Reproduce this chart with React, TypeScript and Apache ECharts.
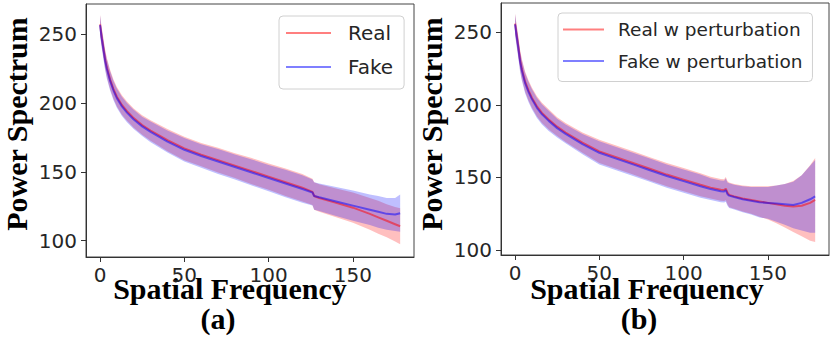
import React, { useEffect, useRef } from "react";
import * as echarts from "echarts";

// ---------- data ----------
const freqA = [0, 1, 2, 3, 4, 6, 8, 10, 13, 16, 20, 25, 30, 40, 50, 60, 70, 80, 90, 100, 110, 120, 126, 127, 130, 140, 150, 160, 165, 170, 175, 178];
const realMeanA = [257, 248, 240, 232, 226, 217, 210, 204.5, 198.5, 194, 189, 184, 180, 173, 167, 162.5, 158.5, 154.5, 150.5, 146.5, 142.5, 138.5, 135.5, 132.5, 131, 127.5, 124, 119.5, 117, 114.5, 112, 110.5];
const fakeMeanA = [256.5, 247, 239, 231, 225, 216, 209, 203.5, 197.5, 193, 188, 183, 179, 172, 166, 161.5, 157.5, 153.5, 149.5, 145.5, 141.5, 137.5, 135, 132.5, 131.5, 128.5, 125.5, 122.5, 121, 119.5, 119, 120];
const realStdA = [7, 7, 7, 7, 7, 7, 7, 7, 7, 7, 7, 7, 7.5, 8, 8.5, 8.5, 9, 9, 9.5, 9.5, 10, 10, 9.5, 10, 10, 10.5, 11, 11.5, 12, 12, 12.5, 13];
const fakeStdA = [7, 7, 7, 7, 7, 7, 7, 7, 7, 7, 7, 7, 7.5, 8, 8.5, 8.5, 9, 9, 9.5, 9.5, 10, 10, 9.5, 10, 10, 10.5, 11, 11, 11.5, 11.5, 12, 13.5];

const freqB = [0, 1, 2, 3, 4, 6, 8, 10, 13, 16, 20, 25, 30, 40, 50, 60, 70, 80, 90, 100, 110, 116, 122, 124, 125, 126, 127, 130, 135, 140, 145, 150, 155, 160, 165, 170, 175, 178];
const realMeanB = [256, 248, 240, 231, 225, 216, 210, 205, 199, 194.5, 190, 185, 181, 174, 168, 164, 160, 156, 152, 148.5, 145, 143, 141.5, 141.3, 142.3, 139.5, 138, 137, 135.5, 134.5, 133.5, 132.5, 131.5, 130.5, 130, 130.5, 132.5, 134.5];
const fakeMeanB = [255.5, 247, 239, 230, 224, 215, 209, 204, 198, 193.5, 189, 184, 180, 173, 167, 163, 159, 155, 151, 147.5, 144, 142, 140.5, 140.3, 141.3, 138.5, 137.5, 136.5, 135, 134, 133, 132.5, 132, 131.5, 131, 132.5, 135, 137];
const realStdB = [7, 7, 7, 7, 7, 7, 7, 7, 7, 7, 7, 6.5, 6.5, 7, 8, 8, 8, 8, 8, 8, 8, 7.5, 7.5, 7.5, 8, 8, 8.5, 8.5, 9, 9.5, 10.5, 11.5, 13, 15, 17.5, 21, 26, 29];
const fakeStdB = [7, 7, 7, 7, 7, 7, 7, 7, 7, 7, 7, 6.5, 6.5, 7, 8, 8, 8, 8, 8, 8, 8, 7.5, 7.5, 7.5, 8, 8, 8.5, 8.5, 9, 9.5, 10.5, 11, 12.5, 14, 16, 19, 23, 25];

const xTicks = [0, 50, 100, 150];
const yTicks = [100, 150, 200, 250];
const legendA = ["Real", "Fake"];
const legendB = ["Real w perturbation", "Fake w perturbation"];
const xLabel = "Spatial Frequency";
const yLabel = "Power Spectrum";
const captions = ["(a)", "(b)"];

// ---------- styles ----------
const RED_LINE = "rgba(255,0,0,0.5)";
const BLUE_LINE = "rgba(0,0,255,0.5)";
const RED_FILL = "rgba(255,0,0,0.25)";
const BLUE_FILL = "rgba(0,0,255,0.25)";
const TICK_FONT = "DejaVu Sans";
const SERIF = "Liberation Serif";

function bandSeries(idx: number, freq: number[], mean: number[], std: number[], fill: string) {
  const data = freq.map((f, i) => [f, mean[i] - std[i], mean[i] + std[i]]);
  return {
    type: "custom",
    xAxisIndex: idx,
    yAxisIndex: idx,
    silent: true,
    data,
    encode: { x: 0, y: [1, 2] },
    renderItem: (params: any, api: any) => {
      if (params.dataIndex !== 0) return null;
      const upper = data.map((d) => api.coord([d[0], d[2]]));
      const lower = data.map((d) => api.coord([d[0], d[1]])).reverse();
      return {
        type: "polygon",
        shape: { points: upper.concat(lower) },
        style: { fill, stroke: "none" },
      };
    },
    z: 2,
  };
}

function meanSeries(idx: number, name: string, freq: number[], mean: number[], color: string) {
  return {
    name,
    type: "line",
    xAxisIndex: idx,
    yAxisIndex: idx,
    data: freq.map((f, i) => [f, mean[i]]),
    showSymbol: false,
    symbol: "none",
    color,
    lineStyle: { color, width: 2 },
    z: 5,
  };
}

function xAxisFor(idx: number) {
  return {
    type: "value",
    gridIndex: idx,
    min: -8.3,
    max: 186.2,
    splitLine: { show: false },
    axisLine: { show: true, onZero: false, lineStyle: { color: "#333", width: 1 } },
    axisTick: { show: true, length: 5, customValues: xTicks, lineStyle: { color: "#333" } },
    axisLabel: { customValues: xTicks, fontFamily: TICK_FONT, fontSize: 20, color: "#262626", margin: 8 },
  };
}

function yAxisFor(idx: number, min: number, max: number) {
  return {
    type: "value",
    gridIndex: idx,
    min,
    max,
    splitLine: { show: false },
    axisLine: { show: true, onZero: false, lineStyle: { color: "#333", width: 1 } },
    axisTick: { show: true, length: 5, customValues: yTicks, lineStyle: { color: "#333" } },
    axisLabel: { customValues: yTicks, fontFamily: TICK_FONT, fontSize: 20, color: "#262626", margin: 9 },
  };
}

function legendFor(names: string[], colors: string[], left: number, top: number, itemWidth: number, fontSize: number, gap: number, textPad: number, padding: number[]) {
  return {
    orient: "vertical",
    left,
    top,
    itemWidth,
    itemHeight: 2,
    itemGap: gap,
    icon: "rect",
    selectedMode: false,
    backgroundColor: "#fff",
    borderColor: "#d0d0d0",
    borderWidth: 1,
    borderRadius: 4,
    padding,
    textStyle: { fontFamily: TICK_FONT, fontSize, color: "#262626", padding: [0, 0, 0, textPad] },
    data: names.map((n, i) => ({ name: n, icon: "rect", itemStyle: { color: colors[i] } })),
  };
}

function titleText(text: string, x: number, y: number, rotate = false) {
  return {
    type: "text",
    x,
    y,
    rotation: rotate ? Math.PI / 2 : 0,
    style: {
      text,
      fontFamily: SERIF,
      fontWeight: "bold",
      fontSize: 30,
      fill: "#000",
      align: "center",
      verticalAlign: "middle",
    },
  };
}

export default function App() {
  const ref = useRef<HTMLDivElement>(null);
  useEffect(() => {
    document.body.style.margin = "0";
    const chart = echarts.init(ref.current!, null, { renderer: "svg" });
    chart.setOption({
      animation: false,
      backgroundColor: "#fff",
      grid: [
        { left: 86, top: 4, width: 328, height: 253, show: true, borderColor: "#444", borderWidth: 1, backgroundColor: "transparent" },
        { left: 501, top: 3, width: 328, height: 252, show: true, borderColor: "#444", borderWidth: 1, backgroundColor: "transparent" },
      ],
      xAxis: [xAxisFor(0), xAxisFor(1)],
      yAxis: [yAxisFor(0, 88.2, 271.8), yAxisFor(1, 96.6, 270.2)],
      legend: [
        legendFor(legendA, [RED_LINE, BLUE_LINE], 279, 16, 45, 20, 14, 12, [7, 11, 12, 7]),
        legendFor(legendB, [RED_LINE, BLUE_LINE], 558, 13, 41, 18.5, 12.5, 9, [7, 10, 11, 5]),
      ],
      series: [
        bandSeries(0, freqA, realMeanA, realStdA, RED_FILL),
        meanSeries(0, legendA[0], freqA, realMeanA, RED_LINE),
        bandSeries(0, freqA, fakeMeanA, fakeStdA, BLUE_FILL),
        meanSeries(0, legendA[1], freqA, fakeMeanA, BLUE_LINE),
        bandSeries(1, freqB, realMeanB, realStdB, RED_FILL),
        meanSeries(1, legendB[0], freqB, realMeanB, RED_LINE),
        bandSeries(1, freqB, fakeMeanB, fakeStdB, BLUE_FILL),
        meanSeries(1, legendB[1], freqB, fakeMeanB, BLUE_LINE),
      ],
      graphic: [
        titleText(yLabel, 16, 124, true),
        titleText(yLabel, 431, 124, true),
        titleText(xLabel, 230, 288),
        titleText(xLabel, 647, 288),
        titleText(captions[0], 218, 318),
        titleText(captions[1], 639, 318),
      ],
    });
    return () => chart.dispose();
  }, []);
  return <div ref={ref} style={{ position: "absolute", left: 0, top: 0, width: 831, height: 342 }} />;
}
